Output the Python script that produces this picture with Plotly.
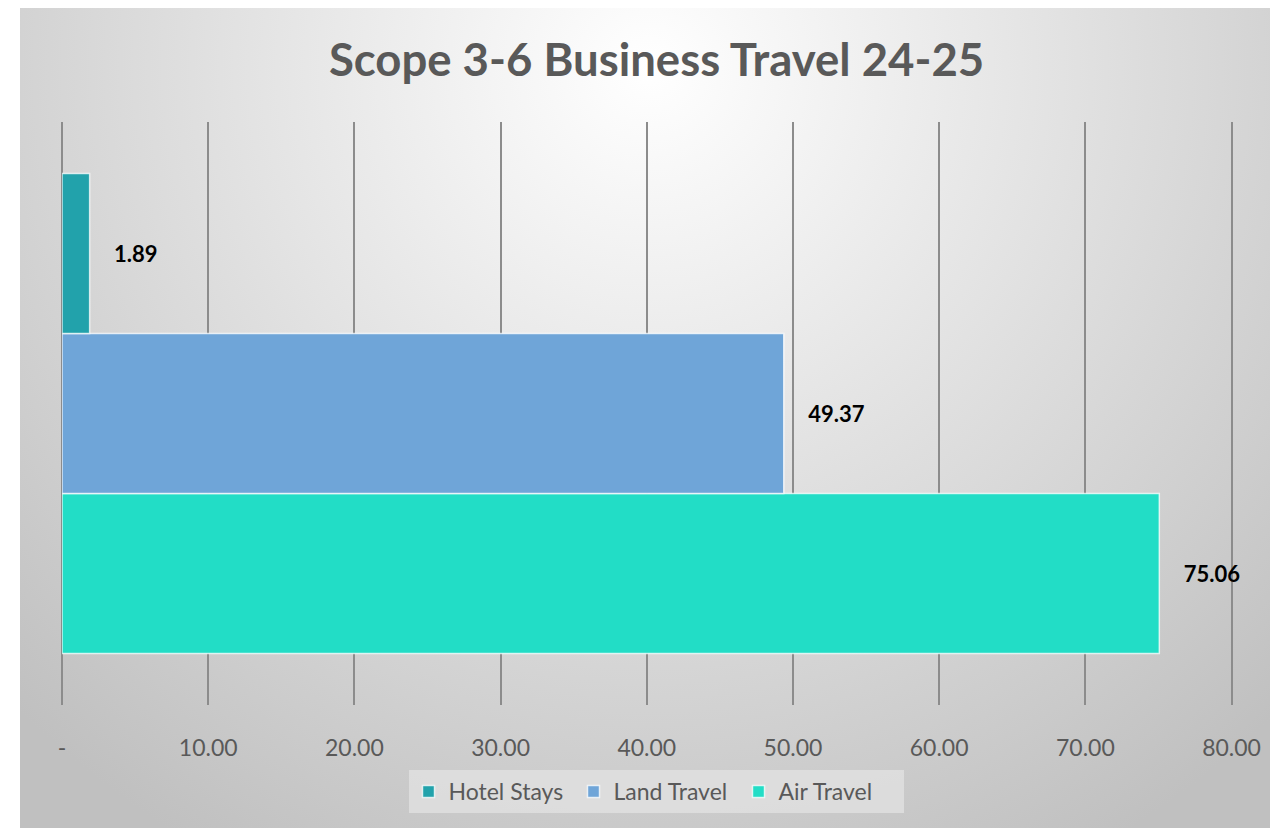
import base64
import plotly.graph_objects as go

# ---- data ----
category = ["Scope 3-6 Business Travel 24-25"]
series_names = ["Hotel Stays", "Land Travel", "Air Travel"]
series_values = [1.89, 49.37, 75.06]
series_colors = ["#22A2AB", "#6FA5D8", "#22DDC6"]
tick_values = [0, 10, 20, 30, 40, 50, 60, 70, 80]
tick_labels = ["-", "10.00", "20.00", "30.00", "40.00", "50.00", "60.00", "70.00", "80.00"]

FONT = "Lato"
# page has 8px body margin; figure origin sits at (8, 8)
W, H = 1270, 820
L, R, T, B = 54, 45, 114, 123
pw, ph = W - L - R, H - T - B

fig = go.Figure()
# add in reverse so that Hotel Stays is on top
for name, val, col in reversed(list(zip(series_names, series_values, series_colors))):
    fig.add_trace(go.Bar(
        y=category, x=[val], name=name, orientation="h",
        marker=dict(color=col, line=dict(color="rgba(255,255,255,0.75)", width=1.5)),
        text=[val], texttemplate="\u00a0\u00a0\u00a0\u00a0%{x:.2f}", textposition="outside",
        textfont=dict(family=FONT, size=22, color="#000000", weight="bold"),
        cliponaxis=False,
    ))

svg = '''<svg xmlns="http://www.w3.org/2000/svg" width="1258" height="820" viewBox="0 0 1258 820" preserveAspectRatio="none">
<defs><radialGradient id="g" gradientUnits="userSpaceOnUse" cx="629" cy="60" r="900">
<stop offset="0" stop-color="#ffffff"/><stop offset="1" stop-color="#c0c0c0"/></radialGradient></defs>
<rect x="0" y="0" width="1258" height="820" fill="url(#g)"/></svg>'''
uri = "data:image/svg+xml;base64," + base64.b64encode(svg.encode()).decode()

fig.add_layout_image(dict(
    source=uri, xref="paper", yref="paper",
    x=(12 - L) / pw, y=(H - B) / ph, sizex=1258 / pw, sizey=820 / ph,
    xanchor="left", yanchor="top", sizing="stretch", layer="below",
))

fig.update_layout(
    width=W, height=H,
    margin=dict(l=L, r=R, t=T, b=B),
    paper_bgcolor="#ffffff", plot_bgcolor="rgba(0,0,0,0)",
    barmode="group", bargap=0.177, bargroupgap=0,
    title=dict(text="Scope 3-6 Business Travel 24-25", x=(652 - L) / pw, xanchor="center",
               y=1 - 52 / H, yanchor="middle",
               font=dict(family=FONT, size=45.5, color="#595959", weight="bold")),
    font=dict(family=FONT, color="#595959"),
    xaxis=dict(range=[0, 80.1], tickvals=tick_values, ticktext=tick_labels,
               showgrid=True, gridcolor="#8c8c8c", gridwidth=1.5,
               zeroline=True, zerolinecolor="#8c8c8c", zerolinewidth=1.5,
               showline=False, ticks="outside", ticklen=22, tickcolor="rgba(0,0,0,0)",
               tickfont=dict(family=FONT, size=23, color="#595959")),
    yaxis=dict(showticklabels=False, showgrid=False, zeroline=False, showline=False),
    legend=dict(orientation="h", x=(648 - L) / pw, xanchor="center", y=(H - B - 762) / ph, yanchor="top",
                traceorder="reversed", bgcolor="rgba(228,228,228,0.7)",
                entrywidth=120, itemwidth=30,
                font=dict(family=FONT, size=23, color="#595959")),
)

fig.write_html("out.html")
